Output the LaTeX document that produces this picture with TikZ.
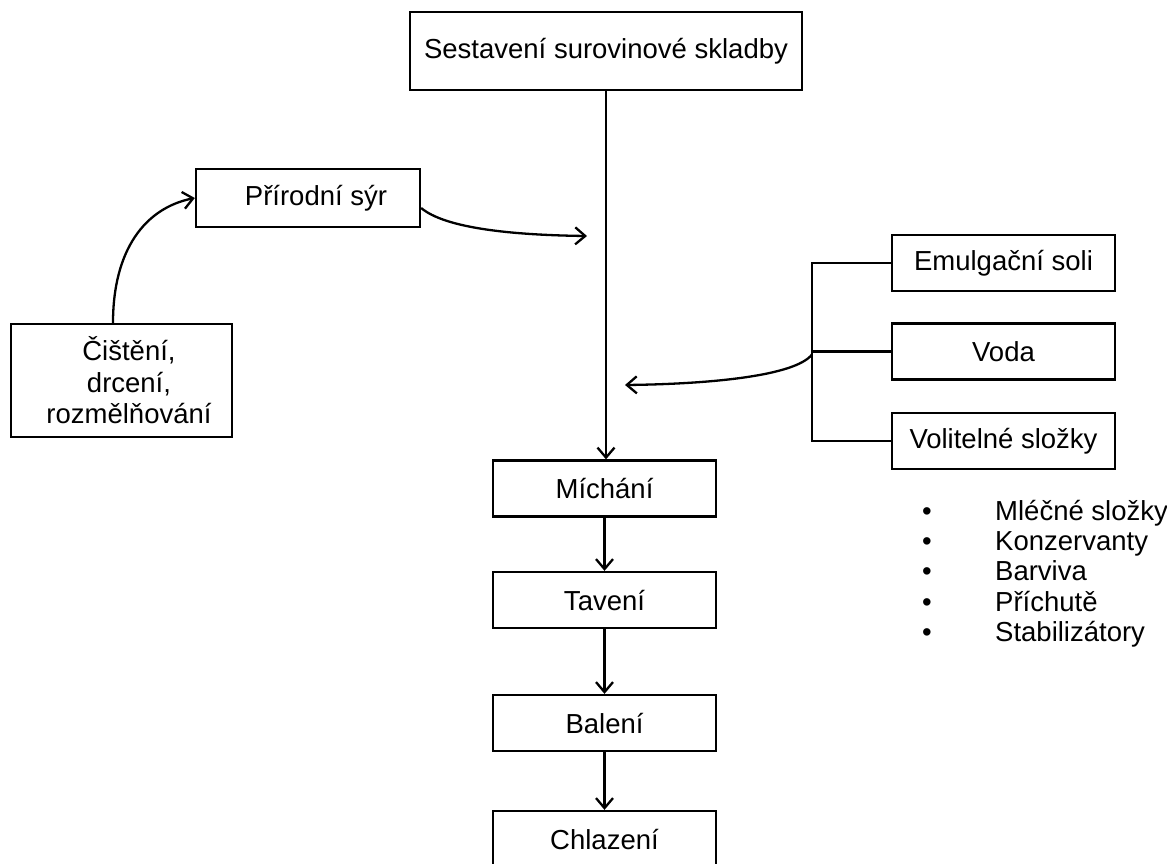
\documentclass[tikz,border=0pt]{standalone}
\usepackage{fontspec}
\setmainfont{Liberation Sans}
\usetikzlibrary{arrows.meta}
\begin{document}
\begin{tikzpicture}[x=1pt,y=-1pt,
  box/.style={draw=black,line width=2.3pt,inner sep=0pt,minimum height=56pt,minimum width=223pt,font=\fontsize{27.5}{31.5}\selectfont,align=center},
  conn/.style={line width=2.3pt},
  arr/.style={line width=2.3pt,-{Straight Barb[length=10pt,width=17pt]}},
  txt/.style={font=\fontsize{27.5}{30.25}\selectfont,inner sep=0pt}]
\useasboundingbox[fill=white] (0,0) rectangle (1167,863);
% main column
\node[box,minimum width=392pt,minimum height=78pt] (top) at (606,51) {Sestavení surovinové skladby};
\node[box] (mich) at (604.5,488.5) {Míchání};
\node[box] (tav) at (604.5,600) {Tavení};
\node[box] (bal) at (604.5,723) {Balení};
\node[box] (chl) at (604.5,839) {Chlazení};
% left side
\node[box,minimum width=224pt,minimum height=58pt] (pri) at (308,198) {\hspace*{16pt}Přírodní sýr};
\node[box,minimum width=221pt,minimum height=113pt] (cis) at (121.5,380.5) {\hspace*{15pt}Čištění,\\\hspace*{15pt}drcení,\\\hspace*{15pt}rozmělňování};
% right side
\node[box] (emu) at (1003.5,263) {Emulgační soli};
\node[box] (voda) at (1003.5,351.5) {Voda};
\node[box] (vol) at (1003.5,441) {Volitelné složky};
\node[txt,align=left,anchor=west] (list) at (922,573.5) {\makebox[73pt][l]{•}Mléčné složky\\\makebox[73pt][l]{•}Konzervanty\\\makebox[73pt][l]{•}Barviva\\\makebox[73pt][l]{•}Příchutě\\\makebox[73pt][l]{•}Stabilizátory};
% coordinates
\coordinate (c1) at (587,236);
\coordinate (c2) at (625,385);
\coordinate (bx) at (812,0);
% connectors
\draw[arr] (top.south) -- (top.south |- mich.north);
\draw[arr] (mich.south) -- (tav.north);
\draw[arr] (tav.south) -- (bal.north);
\draw[arr] (bal.south) -- (chl.north);
\draw[arr] (cis.north -| 113,0) .. controls (113,250) and (145,208) .. (pri.west);
\draw[arr] ([yshift=-10pt]pri.east) .. controls (445,228) and (510,235) .. (c1);
\draw[conn] (emu.west) -- (emu.west -| bx) -- (vol.west -| bx) -- (vol.west);
\draw[conn] (voda.west) -- (voda.west -| bx);
\draw[arr] ([yshift=-3pt]voda.west -| bx) .. controls (795,376) and (710,384) .. (c2);
\end{tikzpicture}
\end{document}
